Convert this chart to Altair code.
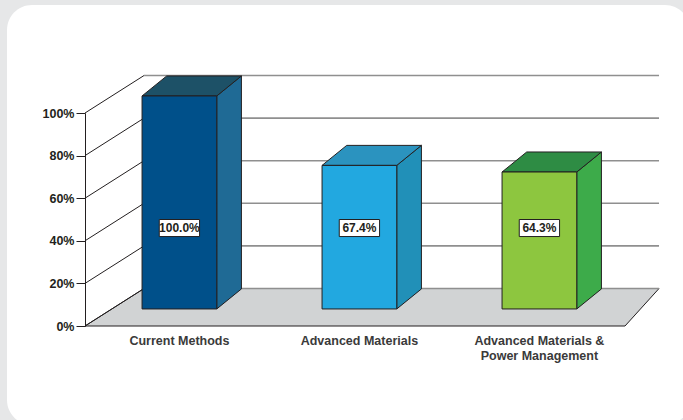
import altair as alt
import pandas as pd

# ---- data ----
categories = ["Current Methods", "Advanced Materials", "Advanced Materials &\nPower Management"]
values = [100.0, 67.4, 64.3]
value_labels = ["100.0%", "67.4%", "64.3%"]
front_colors = ["#00508a", "#22a8e0", "#8dc63f"]
side_colors = ["#1f6a95", "#2190b8", "#3dab4a"]
top_colors = ["#1d5167", "#2b93bf", "#2e8c44"]
y_ticks = [0, 20, 40, 60, 80, 100]

# ---- geometry (scale units) ----
W, H = 576, 213
X_DOMAIN = [0, 3.2]
Y_DOMAIN = [0, 100]
WALL_DY = 17.6
WALL_DX_L = 0.328
WALL_DX_R = 0.189
FLOOR_END = 3.0
BAR_OFF = 0.317
BAR_W = 0.415
BAR_BASE = 8.0
SIDE_DX = 0.137
SIDE_DY = 9.4
LABEL_Y = 46.0
BOX_HW = 0.112
BOX_HH = 4.0

xs = alt.Scale(domain=X_DOMAIN, nice=False, zero=False)
ys = alt.Scale(domain=Y_DOMAIN, nice=False, zero=False)
YAX = alt.Axis(
    values=y_ticks, labelExpr="datum.value + '%'", title=None,
    domainColor="#231f20", tickColor="#231f20", tickSize=9, domainWidth=1,
    labelFont="Liberation Sans", labelFontWeight="bold", labelFontSize=12.5,
    labelColor="#231f20", labelPadding=2, grid=False, zindex=1,
)

def Y(f):
    return alt.Y(f, scale=ys, axis=YAX)

def X(f):
    return alt.X(f, scale=xs, axis=None)

bars = pd.DataFrame({
    "cat": categories,
    "val": values,
    "lab": value_labels,
    "front": front_colors,
})
bars["i"] = range(len(bars))
bars["xl"] = bars["i"] + BAR_OFF
bars["xr"] = bars["xl"] + BAR_W
bars["xc"] = (bars["xl"] + bars["xr"]) / 2
bars["base"] = BAR_BASE
bars["top"] = BAR_BASE + bars["val"]
bars["bxl"] = bars["xc"] - BOX_HW
bars["bxr"] = bars["xc"] + BOX_HW
bars["by"] = LABEL_Y - BOX_HH
bars["by2"] = LABEL_Y + BOX_HH
bars["ly"] = LABEL_Y

side_rows, top_rows = [], []
for i, r in bars.iterrows():
    side_rows.append({"bar": i, "x": r.xr, "y": r.base, "y2": r.top, "fill": side_colors[i]})
    side_rows.append({"bar": i, "x": r.xr + SIDE_DX, "y": r.base + SIDE_DY, "y2": r.top + SIDE_DY, "fill": side_colors[i]})
    top_rows.append({"bar": i, "y": r.top, "x": r.xl, "x2": r.xr, "fill": top_colors[i]})
    top_rows.append({"bar": i, "y": r.top + SIDE_DY, "x": r.xl + SIDE_DX, "x2": r.xr + SIDE_DX, "fill": top_colors[i]})
side_df = pd.DataFrame(side_rows)
top_df = pd.DataFrame(top_rows)

floor_df = pd.DataFrame({
    "y": [0, WALL_DY],
    "x": [0, WALL_DX_L],
    "x2": [FLOOR_END, FLOOR_END + WALL_DX_R],
})

grid_df = pd.DataFrame({"v": y_ticks})
grid_df["yb"] = grid_df["v"] + WALL_DY
grid_df["x0"] = 0.0
grid_df["xb"] = WALL_DX_L
grid_df["xe"] = FLOOR_END + WALL_DX_R

one = pd.DataFrame({"a": [0]})

# ---- layers ----
panel = alt.Chart(one).mark_rect(fill="white", cornerRadius=25).encode(
    x=alt.value(-78), x2=alt.value(605), y=alt.value(-108), y2=alt.value(312)
)

yaxis = alt.Chart(grid_df).mark_point(opacity=0).encode(y=Y("v:Q"), x=X("x0:Q"))

floor = alt.Chart(floor_df).mark_area(
    orient="horizontal", fill="#d1d3d4", stroke="#231f20", strokeWidth=1
).encode(y=Y("y:Q"), x=X("x:Q"), x2="x2:Q")

diag = alt.Chart(grid_df).mark_rule(color="#231f20", strokeWidth=1).encode(
    x=X("x0:Q"), x2="xb:Q", y=Y("v:Q"), y2="yb:Q",
)

back = alt.Chart(grid_df).mark_rule(color="#8f8f8f", strokeWidth=1.6).encode(
    x=X("xb:Q"), x2="xe:Q", y=Y("yb:Q"),
)

side = alt.Chart(side_df).mark_area(stroke="#231f20", strokeWidth=1).encode(
    x=X("x:Q"), y=Y("y:Q"), y2="y2:Q",
    color=alt.Color("fill:N", scale=None), detail="bar:N",
)

top = alt.Chart(top_df).mark_area(orient="horizontal", stroke="#231f20", strokeWidth=1).encode(
    y=Y("y:Q"), x=X("x:Q"), x2="x2:Q",
    color=alt.Color("fill:N", scale=None), detail="bar:N",
)

front = alt.Chart(bars).mark_rect(stroke="#231f20", strokeWidth=1).encode(
    x=X("xl:Q"), x2="xr:Q", y=Y("base:Q"), y2="top:Q",
    color=alt.Color("front:N", scale=None),
)

box = alt.Chart(bars).mark_rect(fill="white", stroke="#231f20", strokeWidth=1).encode(
    x=X("bxl:Q"), x2="bxr:Q", y=Y("by:Q"), y2="by2:Q",
)

vtext = alt.Chart(bars).mark_text(
    font="Liberation Sans", fontWeight="bold", fontSize=12, color="#231f20", baseline="middle"
).encode(x=X("xc:Q"), y=Y("ly:Q"), text="lab:N")

ctext = alt.Chart(bars).mark_text(
    font="Liberation Sans", fontWeight="bold", fontSize=12.5, color="#3a3a3a",
    baseline="middle", lineBreak="\n", lineHeight=15
).encode(x=X("xc:Q"), y=alt.value(H + 15), text="cat:N")

chart = alt.layer(
    panel, yaxis, floor, diag, back, side, top, front, box, vtext, ctext
).properties(
    width=W, height=H,
    background="#e6e7e8",
    padding={"left": 85, "top": 113, "right": 22, "bottom": 94},
    autosize=alt.AutoSizeParams(type="none"),
).configure_view(stroke=None)

chart.save("out.html", embed_options={"renderer": "svg", "actions": False})
